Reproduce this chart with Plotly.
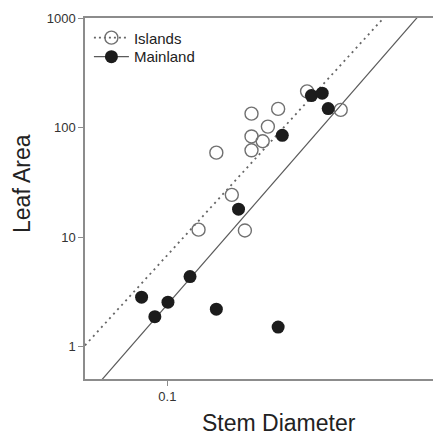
import numpy as np
import plotly.graph_objects as go

# stem diameter / leaf area
islands_x = [0.324, 0.430, 0.203, 0.254, 0.233, 0.203, 0.223, 0.203, 0.151, 0.172, 0.130, 0.192]
islands_y = [214, 145, 134, 148, 102, 83, 75, 62, 59, 24.3, 11.7, 11.5]

mainland_x = [0.336, 0.368, 0.387, 0.263, 0.182, 0.121, 0.0805, 0.1005, 0.090, 0.151, 0.254]
mainland_y = [196, 206, 149, 85, 18.0, 4.36, 2.83, 2.55, 1.88, 2.20, 1.51]

# log-log fits (intercept, slope) as drawn
islands_fit = (3.575, 2.739)
mainland_fit = (3.254, 2.869)
fit_x = [0.05, 1.0]

y_ticks = [1, 10, 100, 1000]
x_ticks = [0.1]

GREY = "#8c8c8c"
LINE = "#5a5a5a"
DOT = "2px,4px"


def fit_line(coef, xs):
    a, b = coef
    xs = np.array(xs)
    return xs, 10 ** (a + b * np.log10(xs))


fig = go.Figure()

ix, iy = fit_line(islands_fit, fit_x)
fig.add_trace(go.Scatter(x=ix, y=iy, mode="lines", showlegend=False,
                         line=dict(color="#666666", width=1.8, dash=DOT)))
mx, my = fit_line(mainland_fit, fit_x)
fig.add_trace(go.Scatter(x=mx, y=my, mode="lines", showlegend=False,
                         line=dict(color=LINE, width=1.2)))

fig.add_trace(go.Scatter(x=islands_x, y=islands_y, mode="markers", showlegend=False,
                         marker=dict(symbol="circle-open", size=13, color="#707070",
                                     line=dict(width=1.4))))
fig.add_trace(go.Scatter(x=mainland_x, y=mainland_y, mode="markers", showlegend=False,
                         marker=dict(symbol="circle", size=13, color="#1c1c1c")))

# legend entries (line + marker), one legend box each so the rows sit tight
fig.add_trace(go.Scatter(x=[None], y=[None], mode="lines+markers", name="Islands",
                         legend="legend",
                         line=dict(color="#666666", width=1.8, dash="2px,3px"),
                         marker=dict(symbol="circle-open", size=13, color="#707070",
                                     line=dict(width=1.4))))
fig.add_trace(go.Scatter(x=[None], y=[None], mode="lines+markers", name="Mainland",
                         legend="legend2",
                         line=dict(color=LINE, width=1.2),
                         marker=dict(symbol="circle", size=13, color="#1c1c1c")))

leg = dict(xanchor="left", yanchor="top", bgcolor="rgba(0,0,0,0)",
           font=dict(size=15, color="#222222"), itemwidth=35)

# page body has an 8px margin, so the figure is 8px smaller than the window
fig.update_layout(
    width=433, height=427,
    margin=dict(l=77, r=0, t=10, b=56),
    plot_bgcolor="white", paper_bgcolor="white",
    font=dict(family="Liberation Sans, Arial", color="#222222"),
    legend=dict(x=0.011, y=0.9906, **leg),
    legend2=dict(x=0.011, y=0.938, **leg),
    annotations=[
        dict(text="Stem Diameter", x=0.545, y=-0.122, xref="paper", yref="paper",
             showarrow=False, font=dict(size=23, color="#222222"),
             xanchor="center", yanchor="middle"),
        dict(text="Leaf Area", x=-0.177, y=0.543, xref="paper", yref="paper",
             showarrow=False, textangle=-90, font=dict(size=23, color="#222222"),
             xanchor="center", yanchor="middle"),
    ],
)

fig.update_xaxes(type="log", range=[np.log10(0.05), 0.0],
                 tickvals=x_ticks, ticktext=["0.1"],
                 showgrid=False, zeroline=False,
                 showline=True, linecolor=GREY, linewidth=1.5, mirror=True,
                 ticks="outside", ticklen=5, tickcolor=GREY, tickwidth=1.2,
                 tickfont=dict(size=13, color="#333333"))
fig.update_yaxes(type="log", range=[np.log10(0.507), 3.0],
                 tickvals=y_ticks, ticktext=[str(v) for v in y_ticks],
                 showgrid=False, zeroline=False,
                 showline=True, linecolor=GREY, linewidth=1.5,
                 ticks="outside", ticklen=5, tickcolor=GREY, tickwidth=1.2,
                 tickfont=dict(size=13, color="#333333"))

fig.write_html("out.html")
